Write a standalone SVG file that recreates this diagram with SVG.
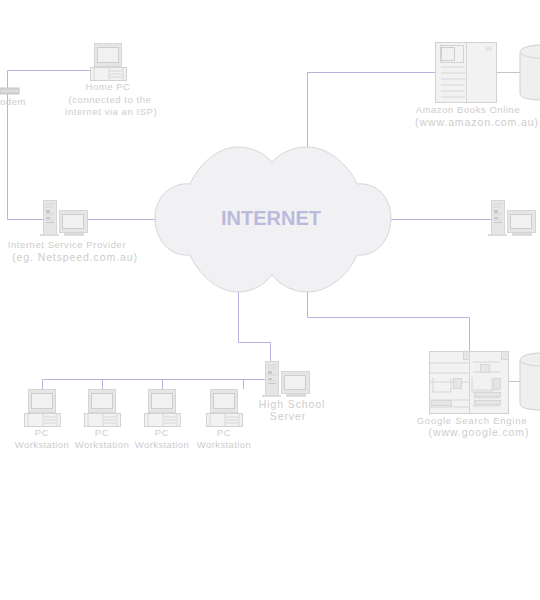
<svg xmlns="http://www.w3.org/2000/svg" width="540" height="600" viewBox="0 0 540 600">
<style>
text{font-family:"Liberation Sans",Arial,sans-serif;font-size:9.5px;fill:#cdcdcd;letter-spacing:.55px;text-anchor:middle}
.big{font-size:10.5px;letter-spacing:.9px}
.pc{letter-spacing:.4px}
.wire{fill:none;stroke:#b4b4de;stroke-width:1}
.gw{fill:none;stroke:#c4c4c4;stroke-width:1}
.b{fill:#e6e6e6;stroke:#d6d6d6;stroke-width:1}
.s{fill:#f1f1f1;stroke:#cdcdcd;stroke-width:1}
.l{fill:none;stroke:#d6d6d6;stroke-width:1}
.p{fill:#f2f2f2;stroke:#d2d2d2;stroke-width:1}
.cy{fill:#efefef;stroke:#d0d0d0;stroke-width:1}
</style>
<defs>
<g id="desk">
<rect class="b" x="4.500" y="0.500" width="27" height="23"/>
<rect class="s" x="7.500" y="4.500" width="21" height="15"/>
<rect class="b" x="10" y="23" width="16" height="2"/>
<rect class="p" x="0.500" y="24.500" width="36" height="13"/>
<path class="l" d="M4 25v12M19 25v12M20 28h12M20 31h12M20 34h12M33 25v12"/>
</g>
<g id="tower">
<rect class="b" x="3.500" y="0.500" width="13" height="34"/>
<path class="l" d="M5.500 4h9M5.500 7h9M5.500 14h9M5.500 20h9"/>
<rect x="6" y="10" width="4" height="3" fill="#c8c8c8"/>
<rect x="6" y="17" width="4" height="2" fill="#c8c8c8"/>
<rect x="6" y="22" width="8" height="1" fill="#c8c8c8"/>
<rect x="0" y="34" width="19" height="2" fill="#dcdcdc"/>
<rect class="b" x="19.500" y="10.500" width="28" height="22"/>
<rect class="s" x="22.500" y="14.500" width="21" height="14"/>
<rect x="24" y="33" width="20" height="3" fill="#dcdcdc"/>
</g>
</defs>
<g id="connectors">
<path class="wire" d="M90 70.500H7.500V219.500H43"/>
<path class="wire" d="M88 219.500H155"/>
<path class="wire" d="M307.500 147V72.500H435"/>
<path class="wire" d="M391 219.500H492"/>
<path class="wire" d="M307.500 292V317.500H469.500V351"/>
<path class="wire" d="M238.500 292V342.500H270.500V361"/>
<path class="wire" d="M265 379.500H42.500V389M102.500 379.500V389M162.500 379.500V389M243.500 379.500V389"/>
<path class="gw" d="M497 72.500H520M508 381.500H520"/>
</g>
<g id="internet">
<path d="M155 218C155 198 170 182 190 184C200 163 218 147 238 147C252 147 264 153 272 162C280 153 293 147 307 147C328 147 348 164 357 184C376 182 391 197 391 218C391 240 376 257 357 255C348 276 328 292 307 292C293 292 280 285 272 275C264 285 252 292 238 292C218 292 199 275 190 255C170 257 155 240 155 218Z" fill="#f1f1f3" stroke="#d6d6da"/>
<text x="271" y="225" style="font-size:20px;font-weight:bold;letter-spacing:0;fill:#babadd">INTERNET</text>
</g>
<g id="modem">
<rect x="0" y="88" width="19" height="6" fill="#d4d4d4" stroke="#c8c8c8"/>
<path d="M1 91h17" stroke="#eeeeee" stroke-dasharray="2 1"/>
<text x="0" y="105" style="text-anchor:start">odem</text>
</g>
<g id="home-pc">
<use href="#desk" x="90" y="43"/>
<text x="108" y="90">Home PC</text>
<text x="110" y="103">(connected to the</text>
<text x="111" y="115">Internet via an ISP)</text>
</g>
<g id="isp">
<use href="#tower" x="40" y="200"/>
<text x="67" y="248">Internet Service Provider</text>
<text class="big" x="75" y="261">(eg. Netspeed.com.au)</text>
</g>
<g id="amazon">
<rect class="p" x="435.500" y="42.500" width="61" height="60"/>
<path class="l" d="M466.500 43V102M441 85h24M441 67h24M441 73h24M441 79h24M441 91h24M441 97h24M486 48h6M486 50h6"/>
<rect class="p" x="440.500" y="45.500" width="23" height="17"/>
<rect class="s" x="441.500" y="47.500" width="13" height="13"/>
<text x="468" y="113">Amazon Books Online</text>
<text class="big" x="477" y="126">(www.amazon.com.au)</text>
</g>
<g id="amazon-db">
<path class="cy" d="M541 100C530 100 520 98 520 94V52C520 48 530 45 541 45Z"/>
<path class="l" d="M520 52C521 56 532 58 541 58"/>
</g>
<g id="web-pc">
<use href="#tower" x="488" y="200"/>
</g>
<g id="google">
<rect class="p" x="429.500" y="351.500" width="79" height="62"/>
<path class="l" d="M469.500 351V413M430 363h39M430 373h39M430 382h39M430 400h39M430 407h39M473 362h27M473 372h27M473 390h27M473 398h27M473 406h27M433 378v14h18v-14M472 378v14h20v-14"/>
<rect class="b" x="463.500" y="351.500" width="6" height="8"/>
<rect class="b" x="501.500" y="351.500" width="7" height="8"/>
<rect class="b" x="480.500" y="364.500" width="9" height="8"/>
<rect class="b" x="431.500" y="400.500" width="20" height="5"/>
<rect class="b" x="453.500" y="378.500" width="8" height="10"/>
<rect class="b" x="493.500" y="378.500" width="7" height="10"/>
<rect class="b" x="474.500" y="392.500" width="26" height="4"/>
<rect class="b" x="474.500" y="400.500" width="26" height="4"/>
<text x="472" y="424" style="letter-spacing:.75px">Google Search Engine</text>
<text class="big" x="479" y="436">(www.google.com)</text>
</g>
<g id="google-db">
<path class="cy" d="M541 410C530 410 520 408 520 404V360C520 356 530 353 541 353Z"/>
<path class="l" d="M520 360C521 364 532 366 541 366"/>
</g>
<g id="server">
<use href="#tower" x="262" y="361"/>
<text class="big" x="292" y="408">High School</text>
<text class="big" x="288" y="420">Server</text>
</g>
<g id="pc1"><use href="#desk" x="24" y="389"/><text x="42" y="436">PC</text><text class="pc" x="42" y="448">Workstation</text></g>
<g id="pc2"><use href="#desk" x="84" y="389"/><text x="102" y="436">PC</text><text class="pc" x="102" y="448">Workstation</text></g>
<g id="pc3"><use href="#desk" x="144" y="389"/><text x="162" y="436">PC</text><text class="pc" x="162" y="448">Workstation</text></g>
<g id="pc4"><use href="#desk" x="206" y="389"/><text x="224" y="436">PC</text><text class="pc" x="224" y="448">Workstation</text></g>
</svg>
